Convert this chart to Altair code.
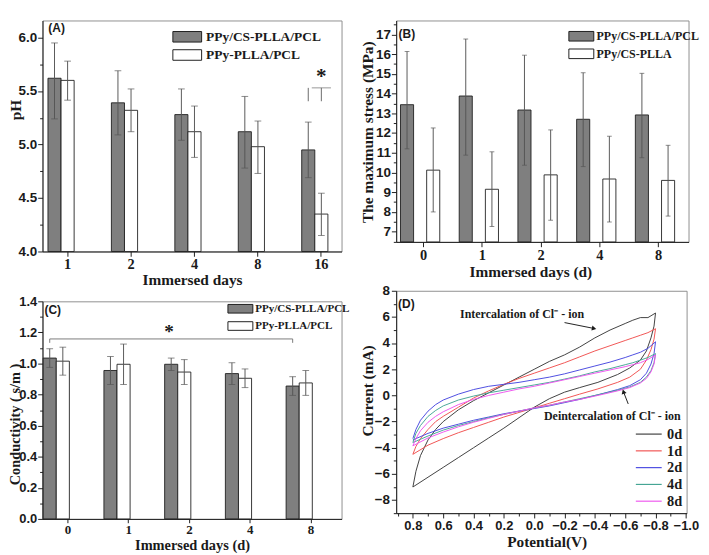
import altair as alt
import pandas as pd

SERIF = "Liberation Serif"
SANS = "Liberation Sans"
INK = "#1a1a1a"
ERR = "#555555"
DARK = "#7f7f7f"

# ---------------- Panel A : pH ----------------
a_days = ["1", "2", "4", "8", "16"]
a_series = ["PPy/CS-PLLA/PCL", "PPy-PLLA/PCL"]
a_cs_mean = [5.62, 5.39, 5.28, 5.12, 4.95]
a_cs_low = [5.24, 5.09, 5.04, 4.78, 4.69]
a_cs_high = [5.95, 5.69, 5.52, 5.45, 5.21]
a_p_mean = [5.60, 5.32, 5.12, 4.98, 4.35]
a_p_low = [5.415, 5.12, 4.88, 4.73, 4.15]
a_p_high = [5.78, 5.52, 5.36, 5.22, 4.545]
a_sig_day = "16"
a_sig_low = 5.405
a_sig_high = 5.53
a_star_y = 5.64
a_ticks = [4.0, 4.5, 5.0, 5.5, 6.0]
a_minor = [4.25, 4.75, 5.25, 5.75]

# ---------------- Panel B : maximum stress ----------------
b_days = ["0", "1", "2", "4", "8"]
b_series = ["PPy/CS-PLLA/PCL", "PPy/CS-PLLA"]
b_cs_mean = [13.44, 13.88, 13.17, 12.70, 12.92]
b_cs_low = [11.20, 10.88, 10.37, 10.30, 10.75]
b_cs_high = [16.14, 16.77, 15.95, 15.06, 15.03]
b_p_mean = [10.12, 9.15, 9.88, 9.67, 9.60]
b_p_low = [8.00, 7.26, 7.58, 7.49, 7.79]
b_p_high = [12.26, 11.05, 12.16, 11.84, 11.38]
b_ticks = [7, 8, 9, 10, 11, 12, 13, 14, 15, 16, 17]
b_minor = [6.5, 7.5, 8.5, 9.5, 10.5, 11.5, 12.5, 13.5, 14.5, 15.5, 16.5, 17.5]

# ---------------- Panel C : conductivity ----------------
c_days = ["0", "1", "2", "4", "8"]
c_series = ["PPy/CS-PLLA/PCL", "PPy-PLLA/PCL"]
c_cs_mean = [1.035, 0.955, 0.995, 0.935, 0.855]
c_cs_low = [0.975, 0.865, 0.955, 0.865, 0.795]
c_cs_high = [1.095, 1.045, 1.035, 1.005, 0.915]
c_p_mean = [1.015, 0.995, 0.945, 0.905, 0.875]
c_p_low = [0.925, 0.865, 0.865, 0.845, 0.795]
c_p_high = [1.105, 1.125, 1.025, 0.965, 0.955]
c_sig_from = "0"
c_sig_to = "8"
c_sig_low = 1.133
c_sig_high = 1.158
c_star_day = "2"
c_star_y = 1.20
c_ticks = [0.0, 0.2, 0.4, 0.6, 0.8, 1.0, 1.2, 1.4]
c_minor = [0.1, 0.3, 0.5, 0.7, 0.9, 1.1, 1.3]

# ---------------- Panel D : cyclic voltammetry ----------------
d_labels = ["0d", "1d", "2d", "4d", "8d"]
d_colors = ["#3c3c3c", "#f0504f", "#4848e0", "#45a594", "#ee55ee"]
d_fwd_v = [0.8, 0.78, 0.75, 0.7, 0.65, 0.6, 0.5, 0.4, 0.3, 0.2, 0.1, 0.0,
           -0.1, -0.2, -0.3, -0.4, -0.5, -0.6, -0.65, -0.7, -0.75, -0.8]
d_rev_v = [-0.8, -0.79, -0.77, -0.74, -0.7, -0.63, -0.55, -0.42, -0.3, -0.2,
           -0.1, 0.0, 0.1, 0.2, 0.3, 0.4, 0.5, 0.6, 0.7, 0.8]
d0_fwd = [-7.0, -5.8, -4.6, -3.4, -2.6, -2.0, -1.1, -0.4, 0.2, 0.8, 1.4, 2.0,
          2.6, 3.1, 3.7, 4.4, 5.0, 5.5, 5.75, 5.95, 5.95, 6.3]
d0_rev = [6.3, 5.3, 4.4, 3.4, 2.7, 2.1, 1.6, 1.0, 0.6, 0.25,
          -0.25, -0.9, -1.7, -2.5, -3.25, -4.0, -4.75, -5.5, -6.25, -7.0]
d1_fwd = [-4.5, -3.9, -3.3, -2.6, -2.0, -1.6, -0.9, -0.2, 0.35, 0.85, 1.3, 1.7,
          2.1, 2.5, 2.95, 3.4, 3.8, 4.2, 4.4, 4.6, 4.8, 5.1]
d1_rev = [5.1, 4.3, 3.5, 2.7, 2.0, 1.4, 1.0, 0.5, 0.1, -0.25,
          -0.6, -0.95, -1.3, -1.65, -2.05, -2.45, -2.85, -3.3, -3.8, -4.5]
d2_fwd = [-3.3, -2.6, -1.9, -1.2, -0.7, -0.35, 0.1, 0.45, 0.7, 0.85, 1.0, 1.2,
          1.4, 1.65, 1.95, 2.25, 2.55, 2.9, 3.1, 3.3, 3.6, 4.1]
d2_rev = [4.1, 3.2, 2.4, 1.7, 1.2, 0.75, 0.45, 0.05, -0.3, -0.55,
          -0.8, -1.0, -1.2, -1.4, -1.65, -1.9, -2.2, -2.5, -2.9, -3.4]
d4_fwd = [-3.6, -2.9, -2.3, -1.6, -1.15, -0.8, -0.35, -0.05, 0.2, 0.4, 0.6, 0.8,
          1.0, 1.25, 1.5, 1.8, 2.05, 2.35, 2.5, 2.7, 2.9, 3.2]
d4_rev = [3.2, 2.5, 1.9, 1.4, 1.0, 0.65, 0.4, 0.05, -0.25, -0.5,
          -0.75, -0.95, -1.2, -1.45, -1.7, -2.0, -2.3, -2.65, -3.1, -3.6]
d8_fwd = [-3.85, -3.3, -2.7, -2.05, -1.6, -1.25, -0.7, -0.3, 0.0, 0.25, 0.5, 0.7,
          0.95, 1.2, 1.45, 1.7, 1.95, 2.2, 2.35, 2.5, 2.75, 3.1]
d8_rev = [3.1, 2.4, 1.8, 1.3, 0.95, 0.6, 0.35, 0.0, -0.3, -0.5,
          -0.75, -0.95, -1.2, -1.45, -1.75, -2.05, -2.4, -2.8, -3.25, -3.85]
d_x_ticks = [0.8, 0.6, 0.4, 0.2, 0.0, -0.2, -0.4, -0.6, -0.8, -1.0]
d_x_minor = [0.9, 0.7, 0.5, 0.3, 0.1, -0.1, -0.3, -0.5, -0.7, -0.9]
d_y_ticks = [-8, -6, -4, -2, 0, 2, 4, 6, 8]
d_y_minor = [-9, -7, -5, -3, -1, 1, 3, 5, 7]
d_note_text = ["Intercalation of Cl\u207b - ion", "Deintercalation of Cl\u207b - ion"]
d_note_v = [0.08, -0.515]
d_note_i = [6.2, -1.56]
d_arrow_v0 = [-0.2, -0.62]
d_arrow_i0 = [5.57, -0.65]
d_arrow_v1 = [-0.39, -0.59]
d_arrow_i1 = [5.13, 0.24]


def bar_frame(days, series, means, lows, highs):
    rows = []
    for s, m, lo, hi in zip(series, means, lows, highs):
        for d, mv, l, h in zip(days, m, lo, hi):
            rows.append(dict(day=d, series=s, mean=mv, low=l, high=h))
    return pd.DataFrame(rows)


def x_axis(title, label_size=15, title_size=16, label_pad=1, title_pad=0, tick=5,
           title_x=None):
    kw = {}
    if title_x is not None:
        kw["titleX"] = title_x
    return alt.Axis(title=title, labelAngle=0, labelFont=SERIF, labelFontWeight="bold",
                    labelFontSize=label_size, titleFont=SERIF, titleFontWeight="bold",
                    titleFontSize=title_size, tickSize=tick, labelPadding=label_pad,
                    titlePadding=title_pad, labelOverlap=False, **kw)


def y_axis(title, values, fmt, title_y, title_size=16, label_size=14, label_pad=1,
           title_pad=0):
    return alt.Axis(title=title, values=values, format=fmt, orient="left", tickSize=5,
                    labelFont=SANS, labelFontWeight="bold", labelFontSize=label_size,
                    titleFont=SERIF, titleFontWeight="bold", titleFontSize=title_size,
                    labelPadding=label_pad, titlePadding=title_pad, labelOverlap=False,
                    labelFlush=False, titleY=title_y)


def minor_axis(values, orient):
    return alt.Axis(values=values, orient=orient, labels=False, domain=False, ticks=True,
                    tickSize=3, title=None, grid=False)


def rect_legend(x, y, path, label_size, label_offset, row_pad):
    return alt.Legend(orient="none", legendX=x, legendY=y, title=None, symbolType=path,
                      symbolSize=100, symbolStrokeColor=INK, symbolStrokeWidth=1,
                      symbolOpacity=1, labelFont=SERIF, labelFontWeight="bold",
                      labelFontSize=label_size, labelColor=INK, labelOffset=label_offset,
                      rowPadding=row_pad, padding=0)


def panel_tag(text, px, py):
    return alt.Chart(pd.DataFrame({"tag": [text]})).mark_text(
        font=SANS, fontSize=12.5, fontWeight="bold", color=INK, align="left",
        baseline="top").encode(x=alt.value(px), y=alt.value(py), text="tag:N")


def bar_panel(df, days, series, ydom, yaxis, minors, xaxis, width, height, xscale,
              legend, cap, extra):
    x_main = alt.X("day:O", sort=days, scale=xscale, axis=xaxis)
    x_plain = alt.X("day:O", sort=days)
    xo = alt.XOffset("series:N", sort=series,
                     scale=alt.Scale(domain=series, paddingInner=0, paddingOuter=0))
    base = alt.Chart(df)
    bars = base.mark_bar(stroke=INK, strokeWidth=0.9).encode(
        x=x_main, xOffset=xo,
        y=alt.Y("mean:Q", scale=alt.Scale(domain=ydom, nice=False, zero=False), axis=yaxis),
        y2=alt.datum(ydom[0]),
        fill=alt.Fill("series:N", sort=series,
                      scale=alt.Scale(domain=series, range=[DARK, "#ffffff"]),
                      legend=legend))
    minor = base.mark_point(opacity=0).encode(
        y=alt.Y("mean:Q", axis=minor_axis(minors, "left")))
    err = base.mark_rule(color=ERR, strokeWidth=1).encode(
        x=x_plain, xOffset=xo, y=alt.Y("low:Q", axis=None), y2="high:Q")
    cap_lo = base.mark_tick(color=ERR, thickness=1, size=cap).encode(
        x=x_plain, xOffset=xo, y=alt.Y("low:Q", axis=None))
    cap_hi = base.mark_tick(color=ERR, thickness=1, size=cap).encode(
        x=x_plain, xOffset=xo, y=alt.Y("high:Q", axis=None))
    return alt.layer(bars, minor, err, cap_lo, cap_hi, *extra).resolve_axis(
        y="independent").properties(width=width, height=height)


# ---------- Panel A ----------
a_df = bar_frame(a_days, a_series, [a_cs_mean, a_p_mean], [a_cs_low, a_p_low],
                 [a_cs_high, a_p_high])
a_ydom = [4.0, 6.16]
a_sig = pd.DataFrame({"day": [a_sig_day, a_sig_day], "series": a_series,
                      "low": [a_sig_low, a_sig_low], "high": [a_sig_high, a_sig_high]})
a_xo = alt.XOffset("series:N", sort=a_series)
a_legs = alt.Chart(a_sig).mark_rule(color="#666", strokeWidth=1).encode(
    x=alt.X("day:O", sort=a_days), xOffset=a_xo, y=alt.Y("low:Q", axis=None), y2="high:Q")
a_top = alt.Chart(a_sig.iloc[:1]).mark_tick(color="#666", thickness=1, size=20).encode(
    x=alt.X("day:O", sort=a_days), y=alt.Y("high:Q", axis=None))
a_star = alt.Chart(pd.DataFrame({"day": [a_sig_day], "y": [a_star_y]})).mark_text(
    text="*", font=SERIF, fontWeight="bold", fontSize=22, color=INK, baseline="middle").encode(
    x=alt.X("day:O", sort=a_days), y=alt.Y("y:Q", axis=None))
panel_a = bar_panel(
    a_df, a_days, a_series, a_ydom,
    y_axis("pH", a_ticks, ".1f", 93, title_size=16, title_pad=-6), a_minor,
    x_axis("Immersed days", title_pad=0), 312, 241,
    alt.Scale(domain=a_days, paddingInner=0.381, paddingOuter=0.0475, align=0.905),
    rect_legend(144, 10, "M-3,-1.1H3V1.1H-3Z", 14, 12.7, 3),
    7, [a_legs, a_top, a_star, panel_tag("(A)", 6, 2)])

# ---------- Panel B ----------
b_df = bar_frame(b_days, b_series, [b_cs_mean, b_p_mean], [b_cs_low, b_p_low],
                 [b_cs_high, b_p_high])
b_ydom = [6.48, 17.71]
panel_b = bar_panel(
    b_df, b_days, b_series, b_ydom,
    y_axis("The maximum stress (MPa)", b_ticks, "d", 116, title_size=16, title_pad=0),
    b_minor,
    x_axis("Immersed days (d)", title_x=140, title_pad=2), 305, 231,
    alt.Scale(domain=b_days, paddingInner=0.211, paddingOuter=0.095, align=0.385),
    rect_legend(186.9, 10.2, "M-2.6,-1H2.6V1H-2.6Z", 12.5, 9.6, 3.3),
    5, [panel_tag("(B)", 2.5, 8)])

# ---------- Panel C ----------
c_df = bar_frame(c_days, c_series, [c_cs_mean, c_p_mean], [c_cs_low, c_p_low],
                 [c_cs_high, c_p_high])
c_ydom = [0.0, 1.4]
c_br = pd.DataFrame({"day": [c_sig_from, c_sig_from, c_sig_to, c_sig_to],
                     "series": [c_series[0]] * 4,
                     "y": [c_sig_low, c_sig_high, c_sig_high, c_sig_low],
                     "o": [0, 1, 2, 3]})
c_bracket = alt.Chart(c_br).mark_line(color="#777", strokeWidth=1).encode(
    x=alt.X("day:O", sort=c_days), xOffset=alt.XOffset("series:N", sort=c_series),
    y=alt.Y("y:Q", axis=None), order="o:Q")
c_star = alt.Chart(pd.DataFrame({"day": [c_star_day], "y": [c_star_y]})).mark_text(
    text="*", font=SERIF, fontWeight="bold", fontSize=20, color=INK,
    baseline="middle").encode(x=alt.X("day:O", sort=c_days, bandPosition=0.09),
                              y=alt.Y("y:Q", axis=None))
panel_c = bar_panel(
    c_df, c_days, c_series, c_ydom,
    y_axis("Conductivity ( s/m )", c_ticks, ".1f", 128, title_size=15, label_size=13.5,
           title_pad=-4.3), c_minor,
    x_axis("Immersed days    (d)", label_size=13.5, title_size=15, label_pad=0,
           title_pad=2, tick=4),
    312, 227,
    alt.Scale(domain=c_days, paddingInner=0.183, paddingOuter=0.0535, align=0.104),
    rect_legend(200.7, 2, "M-2.6,-0.9H2.6V0.9H-2.6Z", 11.5, 9.7, 4),
    7, [c_bracket, c_star, panel_tag("(C)", 2, 3)])

# ---------- Panel D ----------
rows = []
for lab, fwd, rev in zip(d_labels, [d0_fwd, d1_fwd, d2_fwd, d4_fwd, d8_fwd],
                         [d0_rev, d1_rev, d2_rev, d4_rev, d8_rev]):
    k = 0
    for v, i in list(zip(d_fwd_v, fwd)) + list(zip(d_rev_v, rev)):
        rows.append(dict(day=lab, v=v, i=i, o=k))
        k += 1
d_df = pd.DataFrame(rows)

D_H = 232
d_x_scale = alt.Scale(domain=[0.91, -1.005], nice=False, zero=False)
d_y_scale = alt.Scale(domain=[-9, 8], nice=False, zero=False)
d_x_axis = alt.Axis(title="Potential(V)", values=d_x_ticks, format=".1f", orient="bottom",
                    tickSize=5, labelFont=SANS, labelFontWeight="bold", labelFontSize=13.5,
                    titleFont=SERIF, titleFontWeight="bold", titleFontSize=16,
                    labelPadding=1, titlePadding=2, labelOverlap=False, labelFlush=False,
                    titleX=157)
d_y_axis = alt.Axis(title="Current (mA)", values=d_y_ticks, format="d", orient="left",
                    tickSize=5, labelFont=SANS, labelFontWeight="bold", labelFontSize=14,
                    titleFont=SERIF, titleFontWeight="bold", titleFontSize=16,
                    labelPadding=2, titlePadding=-1, labelOverlap=False, labelFlush=False,
                    titleY=round(D_H * 0.447))
d_lines = alt.Chart(d_df).mark_line(strokeWidth=1).encode(
    x=alt.X("v:Q", scale=d_x_scale, axis=d_x_axis),
    y=alt.Y("i:Q", scale=d_y_scale, axis=d_y_axis),
    color=alt.Color("day:N", sort=d_labels, scale=alt.Scale(domain=d_labels, range=d_colors),
                    legend=alt.Legend(orient="none", legendX=256, legendY=142, title=None,
                                      symbolType="M-2.7,0H2.7", symbolSize=100,
                                      symbolStrokeWidth=1.2, labelFont=SERIF,
                                      labelFontWeight="bold", labelFontSize=15,
                                      labelColor=INK, labelOffset=11.5, rowPadding=1.5,
                                      padding=0)),
    order="o:Q")
d_minor = alt.Chart(d_df).mark_point(opacity=0).encode(
    x=alt.X("v:Q", axis=minor_axis(d_x_minor, "bottom")),
    y=alt.Y("i:Q", axis=minor_axis(d_y_minor, "left")))
notes_df = pd.DataFrame({"v": d_note_v, "i": d_note_i, "t": d_note_text})
d_notes = alt.Chart(notes_df).mark_text(font=SERIF, fontWeight="bold", fontSize=12.5,
                                        color=INK).encode(
    x=alt.X("v:Q", axis=None), y=alt.Y("i:Q", axis=None), text="t:N")
arrow_df = pd.DataFrame({"v0": d_arrow_v0, "i0": d_arrow_i0, "v1": d_arrow_v1, "i1": d_arrow_i1})
d_arrows = alt.Chart(arrow_df).mark_rule(color=INK, strokeWidth=1).encode(
    x=alt.X("v0:Q", axis=None), x2="v1:Q", y=alt.Y("i0:Q", axis=None), y2="i1:Q")
d_head1 = alt.Chart(arrow_df.iloc[:1]).mark_point(shape="triangle", filled=True, color=INK,
                                                  opacity=1, size=28, angle=101).encode(
    x=alt.X("v1:Q", axis=None), y=alt.Y("i1:Q", axis=None))
d_head2 = alt.Chart(arrow_df.iloc[1:]).mark_point(shape="triangle", filled=True, color=INK,
                                                  opacity=1, size=28, angle=342).encode(
    x=alt.X("v1:Q", axis=None), y=alt.Y("i1:Q", axis=None))
panel_d = alt.layer(d_lines, d_minor, d_notes, d_arrows, d_head1, d_head2,
                    panel_tag("(D)", 2, 8)).resolve_axis(
    x="independent", y="independent").properties(width=303, height=D_H)

left = alt.vconcat(panel_a, panel_c, spacing=6).resolve_scale(fill="independent")
right = alt.vconcat(panel_b, panel_d, spacing=3).resolve_scale(fill="independent",
                                                                 color="independent")
chart = alt.hconcat(left, right, spacing=8).resolve_scale(
    fill="independent", color="independent").properties(
    padding=0, background="white").configure_view(
    stroke="#8c8c8c", strokeWidth=1).configure_axis(
    grid=False, domainColor=INK, tickColor=INK, labelColor=INK, titleColor=INK,
    domainWidth=1, tickWidth=1)

chart.save("out.html", embed_options={"renderer": "svg", "actions": False})
